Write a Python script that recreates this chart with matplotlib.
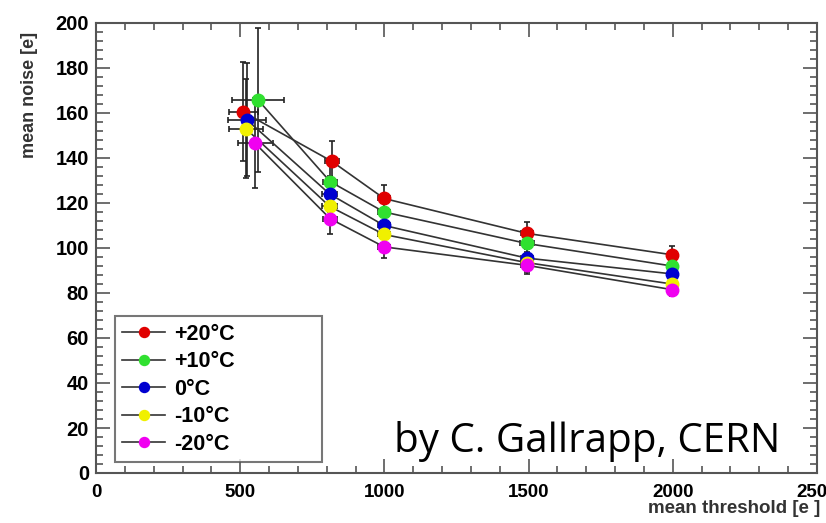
#!/usr/bin/env python3
"""Mean noise vs mean threshold for several temperatures (ROOT-style plot)."""
import matplotlib

matplotlib.use("Agg")
import matplotlib.pyplot as plt
from matplotlib.ticker import MultipleLocator

labels = ["+20°C", "+10°C", "0°C", "-10°C", "-20°C"]
colors = ["#e00000", "#30e030", "#0000d0", "#f0f000", "#f000f0"]

# mean threshold [e]
thr_20 = [510, 818, 999, 1494, 1997]
thr_10 = [562, 812, 999, 1494, 1997]
thr_0 = [523, 810, 999, 1494, 1997]
thr_m10 = [520, 810, 999, 1494, 1997]
thr_m20 = [552, 812, 999, 1494, 1997]

# mean noise [e]
noise_20 = [160.5, 138.5, 122, 106.5, 97]
noise_10 = [165.8, 129.5, 116, 102, 92]
noise_0 = [157, 124, 110, 95.5, 88.5]
noise_m10 = [153, 118.5, 106, 93.5, 84]
noise_m20 = [146.5, 113, 100.5, 92.3, 81.5]

# error bars
xerr_20 = [50, 25, 20, 20, 15]
xerr_10 = [90, 25, 20, 25, 15]
xerr_0 = [65, 25, 20, 20, 15]
xerr_m10 = [60, 25, 20, 20, 15]
xerr_m20 = [60, 25, 20, 20, 15]
yerr_20 = [22, 9, 6, 5, 4]
yerr_10 = [32, 8, 5, 4, 3]
yerr_0 = [25, 8, 5, 4, 3]
yerr_m10 = [22, 7, 5, 4, 3]
yerr_m20 = [20, 7, 5, 4, 3]

series = [
    (thr_20, noise_20, xerr_20, yerr_20),
    (thr_10, noise_10, xerr_10, yerr_10),
    (thr_0, noise_0, xerr_0, yerr_0),
    (thr_m10, noise_m10, xerr_m10, yerr_m10),
    (thr_m20, noise_m20, xerr_m20, yerr_m20),
]

plt.rcParams["font.family"] = ["Liberation Sans", "DejaVu Sans"]
plt.rcParams["font.weight"] = "bold"

fig = plt.figure(figsize=(8.26, 5.23), dpi=100)
ax = fig.add_axes([96 / 826, 1 - 473 / 523, (817 - 96) / 826, (473 - 23) / 523])

for (x, y, xe, ye), lab, col in zip(series, labels, colors):
    ax.errorbar(x, y, xerr=xe, yerr=ye, fmt="none", ecolor="#222222",
                elinewidth=1.2, capsize=2.5, capthick=1.2, zorder=2)
    ax.plot(x, y, color="#333333", lw=1.2, marker="o", ms=9,
            mfc=col, mec=col, label=lab, zorder=3)

ax.set_xlim(0, 2500)
ax.set_ylim(0, 200)
ax.xaxis.set_major_locator(MultipleLocator(500))
ax.xaxis.set_minor_locator(MultipleLocator(100))
ax.yaxis.set_major_locator(MultipleLocator(20))
ax.yaxis.set_minor_locator(MultipleLocator(4))
ax.tick_params(which="both", direction="in", top=True, right=True,
               color="#555555", width=1.2)
ax.tick_params(which="major", length=10)
ax.tick_params(which="minor", length=5)
ax.tick_params(axis="x", pad=8, labelsize=13.5)
ax.tick_params(axis="y", pad=5, labelsize=14.5)
for lbl in ax.get_xticklabels() + ax.get_yticklabels():
    lbl.set_fontweight("bold")
for sp in ax.spines.values():
    sp.set_color("#555555")
    sp.set_linewidth(1.5)

ax.set_ylabel("mean noise [e]", fontsize=13, fontweight="bold", color="#333333")
ax.yaxis.set_label_coords(-0.08, 0.84)
ax.set_xlabel("mean threshold [e ]", fontsize=13.5, fontweight="bold", color="#333333")
ax.xaxis.set_label_coords(1.005, -0.078)
ax.xaxis.label.set_ha("right")
ax.xaxis.label.set_va("center")

leg = ax.legend(loc="lower left", bbox_to_anchor=(0.026, 0.024, 0.287, 0.314),
                mode="expand", fontsize=15.5, frameon=True, fancybox=False,
                edgecolor="#555555", borderaxespad=0, handlelength=2.0,
                labelspacing=0.3, borderpad=0.35, handletextpad=0.4,
                markerscale=0.8)
leg.get_frame().set_linewidth(1.5)
for t in leg.get_texts():
    t.set_fontweight("bold")

fig.text(780 / 826, 1 - 452 / 523, "by C. Gallrapp, CERN", ha="right",
         va="baseline", fontsize=29, family=["Open Sans", "DejaVu Sans"],
         fontweight="normal", color="black")

fig.savefig("out.png", dpi=100)
